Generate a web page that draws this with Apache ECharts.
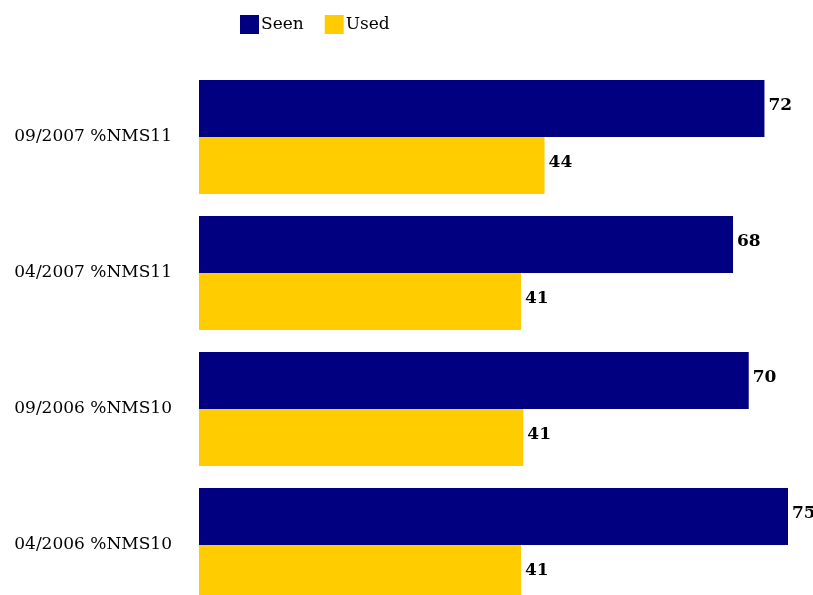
<!DOCTYPE html>
<html><head><meta charset="utf-8">
<script src="https://cdn.jsdelivr.net/npm/echarts@6/dist/echarts.min.js"></script>
<style>html,body{margin:0;padding:0;background:#fff;overflow:hidden}#c{width:813px;height:613px}</style>
</head><body><div id="c"></div>
<script>
const categories = ['09/2007 %NMS11','04/2007 %NMS11','09/2006 %NMS10','04/2006 %NMS10'];
const seen = [72, 68, 70, 75];
const used = [44, 41, 41.3, 41];
const font = 'DejaVu Serif';
const chart = echarts.init(document.getElementById('c'));
chart.setOption({
  animation:false,
  legend:{top:10,left:235,itemWidth:19,itemHeight:19,itemGap:21,icon:'rect',
    textStyle:{fontFamily:font,fontSize:17,color:'#000',padding:[3,0,0,-3]},
    data:['Seen','Used']},
  grid:{left:199,top:69,width:589,bottom:0},
  xAxis:{type:'value',min:0,max:75,show:false},
  yAxis:{type:'category',data:categories,inverse:true,
    axisLine:{show:false},axisTick:{show:false},
    axisLabel:{fontFamily:font,fontSize:17,color:'#000',margin:27}},
  series:[
    {name:'Seen',type:'bar',data:seen,itemStyle:{color:'#000080'},barGap:'0%',barCategoryGap:'16%',
     label:{show:true,position:'right',distance:4,offset:[0,-3],fontFamily:font,fontWeight:'bold',fontSize:17,color:'#000',formatter:p=>Math.round(p.value)}},
    {name:'Used',type:'bar',data:used,itemStyle:{color:'#FFCC00'},barGap:'0%',barCategoryGap:'16%',
     label:{show:true,position:'right',distance:4,offset:[0,-3],fontFamily:font,fontWeight:'bold',fontSize:17,color:'#000',formatter:p=>Math.round(p.value)}}
  ]
});
</script></body></html>
